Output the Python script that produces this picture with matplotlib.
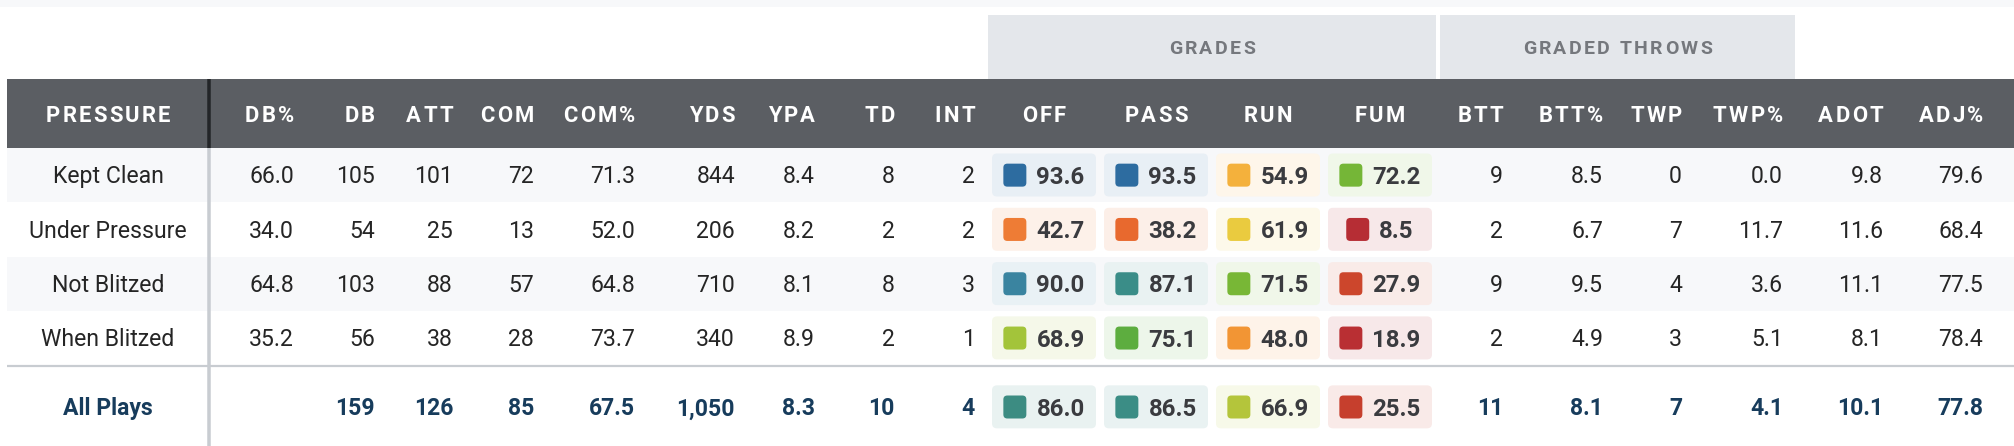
import matplotlib
matplotlib.use("Agg")
import matplotlib.pyplot as plt
from matplotlib.patches import Rectangle, FancyBboxPatch
from matplotlib.colors import LinearSegmentedColormap, to_rgb
from matplotlib.font_manager import FontProperties, findfont, get_font

W, H, DPI = 2014, 446, 100

# ---- data ----
row_labels = ["Kept Clean", "Under Pressure", "Not Blitzed", "When Blitzed"]
total_label = "All Plays"

headers = ["DB%", "DB", "ATT", "COM", "COM%", "YDS", "YPA", "TD", "INT",
           "OFF", "PASS", "RUN", "FUM",
           "BTT", "BTT%", "TWP", "TWP%", "ADOT", "ADJ%"]

db_pct = [66.0, 34.0, 64.8, 35.2]
db = [105, 54, 103, 56]
att = [101, 25, 88, 38]
com = [72, 13, 57, 28]
com_pct = [71.3, 52.0, 64.8, 73.7]
yds = [844, 206, 710, 340]
ypa = [8.4, 8.2, 8.1, 8.9]
td = [8, 2, 8, 2]
ints = [2, 2, 3, 1]
off_grade = [93.6, 42.7, 90.0, 68.9]
pass_grade = [93.5, 38.2, 87.1, 75.1]
run_grade = [54.9, 61.9, 71.5, 48.0]
fum_grade = [72.2, 8.5, 27.9, 18.9]
btt = [9, 2, 9, 2]
btt_pct = [8.5, 6.7, 9.5, 4.9]
twp = [0, 7, 4, 3]
twp_pct = [0.0, 11.7, 3.6, 5.1]
adot = [9.8, 11.6, 11.1, 8.1]
adj_pct = [79.6, 68.4, 77.5, 78.4]

totals = [None, 159, 126, 85, 67.5, 1050, 8.3, 10, 4,
          86.0, 86.5, 66.9, 25.5,
          11, 8.1, 7, 4.1, 10.1, 77.8]

table = [db_pct, db, att, com, com_pct, yds, ypa, td, ints,
         off_grade, pass_grade, run_grade, fum_grade,
         btt, btt_pct, twp, twp_pct, adot, adj_pct]
kinds = ["f", "i", "i", "i", "f", "c", "f", "i", "i",
         "g", "g", "g", "g",
         "i", "f", "i", "f", "f", "f"]

groups = [("GRADES", 988, 1436), ("GRADED THROWS", 1440, 1795)]

# ---- layout / style ----
col_right = [294, 375, 453, 534, 635, 735, 815, 895, 975,
             None, None, None, None,
             1503, 1603, 1682, 1783, 1883, 1983]
grade_left = {9: 992, 10: 1104, 11: 1216, 12: 1328}
CELL_W, CELL_H = 104, 43
LEFT, DIV_X, LABEL_X = 7, 208.5, 108
HEAD_TOP, HEAD_BOT = 79, 148
ROW_H = 54.3
FOOT_LINE, FOOT_Y = 366, 407

grade_stops = [(0, "#b42c35"), (19, "#b92f33"), (25.5, "#c63f2d"), (28, "#cc462c"),
               (38, "#e8692e"), (43, "#ee7d35"), (48, "#f29634"), (55, "#f4b13c"),
               (62, "#eacb3f"), (67, "#b5c53b"), (69, "#a3c43a"), (71.5, "#7ab835"),
               (75, "#5eae3d"), (86, "#3c8c80"), (87.1, "#3a8d88"), (90, "#3b85a0"),
               (93.5, "#2d6ca0"), (100, "#2b6a9e")]
grade_cmap = LinearSegmentedColormap.from_list("grades", [(v / 100, c) for v, c in grade_stops])


def px(p):
    return p * 72 / DPI


def fprop(size, weight="normal"):
    return FontProperties(family="Roboto", weight=weight, size=px(size))


def advances(s, fp):
    font = get_font(findfont(fp))
    font.set_size(fp.get_size_in_points(), DPI)
    return [font.load_char(ord(c)).linearHoriAdvance / 65536 for c in s]


def tint(c, a=0.11):
    return tuple(1 - a * (1 - v) for v in to_rgb(c))


def fmt(v, kind):
    if v is None:
        return ""
    if kind == "i":
        return f"{v:d}"
    if kind == "c":
        return f"{v:,d}"
    return f"{v:.1f}"


fig = plt.figure(figsize=(W / DPI, H / DPI), dpi=DPI)
ax = fig.add_axes([0, 0, 1, 1])
ax.set_xlim(0, W)
ax.set_ylim(H, 0)
ax.axis("off")


def spaced_text(x, y, s, size, color, spacing, ha="center", weight="bold"):
    fp = fprop(size, weight)
    adv = advances(s, fp)
    total = sum(adv) + spacing * (len(s) - 1)
    x0 = {"center": x - total / 2, "right": x - total, "left": x}[ha]
    for c, a in zip(s, adv):
        if c != " ":
            ax.text(x0, y, c, fontproperties=fp, color=color, ha="left", va="baseline")
        x0 += a + spacing


# background bands
ax.add_patch(Rectangle((0, 0), W, 7, color="#f7f8fa", lw=0))
for name, x0, x1 in groups:
    ax.add_patch(Rectangle((x0, 15), x1 - x0, HEAD_TOP - 15, color="#e4e7eb", lw=0))
    spaced_text((x0 + x1) / 2, 54, name, 19.5, "#75787d", 2.4)

ax.add_patch(Rectangle((LEFT, HEAD_TOP), W - LEFT, HEAD_BOT - HEAD_TOP, color="#5b5e63", lw=0))
ax.plot([DIV_X, DIV_X], [HEAD_TOP, HEAD_BOT], color="#232528", lw=px(3.5), solid_capstyle="butt")

# header labels
head_base = 121.5
spaced_text(LABEL_X, head_base, "PRESSURE", 22, "white", 2.3)
for j, name in enumerate(headers):
    if kinds[j] == "g":
        spaced_text(grade_left[j] + CELL_W / 2, head_base, name, 22, "white", 2.3)
    else:
        spaced_text(col_right[j], head_base, name, 22, "white", 2.3, ha="right")

# body rows
body_fp = fprop(23)
grade_fp = fprop(24, "bold")
foot_fp = fprop(23, "bold")


def draw_grade(j, top, v, text_color):
    x0 = grade_left[j]
    c = grade_cmap(v / 100)
    ax.add_patch(FancyBboxPatch((x0, top + 5.5), CELL_W, CELL_H,
                                boxstyle="round,pad=0,rounding_size=5",
                                fc=tint(c), ec="none"))
    s = fmt(v, "f")
    tw = sum(advances(s, grade_fp))
    sw, gap = 23, 10
    gx = x0 + (CELL_W - (sw + gap + tw)) / 2
    cy = top + ROW_H / 2
    ax.add_patch(FancyBboxPatch((gx, cy - 11.5), sw, 23,
                                boxstyle="round,pad=0,rounding_size=4",
                                fc=c, ec="none"))
    ax.text(x0 + (CELL_W + sw + gap + tw) / 2, cy + 8.6, s, fontproperties=grade_fp,
            color=text_color, ha="right", va="baseline")


for r, label in enumerate(row_labels):
    top = HEAD_BOT + r * ROW_H
    if r % 2 == 0:
        ax.add_patch(Rectangle((LEFT, top), W - LEFT, ROW_H, color="#f7f8fa", lw=0))
    base = top + ROW_H / 2 + 8.3
    ax.text(LABEL_X, base, label, fontproperties=body_fp, color="#252525",
            ha="center", va="baseline")
    for j, col in enumerate(table):
        if kinds[j] == "g":
            draw_grade(j, top, col[r], "#3a3b3f")
        else:
            ax.text(col_right[j], base, fmt(col[r], kinds[j]), fontproperties=body_fp,
                    color="#252525", ha="right", va="baseline")

# footer
ax.plot([LEFT, W], [FOOT_LINE, FOOT_LINE], color="#c8ccd1", lw=px(2.2), solid_capstyle="butt")
foot_base = FOOT_Y + 8.3
ax.text(LABEL_X, foot_base, total_label, fontproperties=foot_fp, color="#173c5c",
        ha="center", va="baseline")
for j, v in enumerate(totals):
    if kinds[j] == "g":
        draw_grade(j, FOOT_Y - ROW_H / 2, v, "#3a3b3f")
    else:
        ax.text(col_right[j], foot_base, fmt(v, kinds[j]), fontproperties=foot_fp,
                color="#173c5c", ha="right", va="baseline")

ax.plot([DIV_X, DIV_X], [HEAD_BOT, H], color="#c8ccd1", lw=px(3.5), solid_capstyle="butt")

fig.savefig("out.png", dpi=DPI, facecolor="white")
